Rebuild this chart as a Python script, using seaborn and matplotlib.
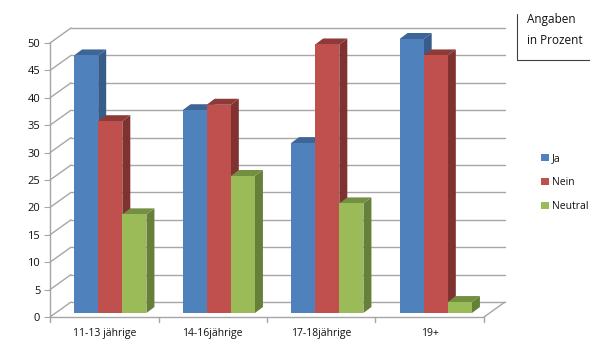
import numpy as np
import pandas as pd
import matplotlib
matplotlib.use("Agg")
import matplotlib.pyplot as plt
import seaborn as sns
from matplotlib.patches import Polygon, Patch
from matplotlib.lines import Line2D

# data
groups = ["11-13 jährige", "14-16jährige", "17-18jährige", "19+"]
answers = ["Ja", "Nein", "Neutral"]
ja = [47, 37, 31, 50]
nein = [35, 38, 49, 47]
neutral = [18, 25, 20, 2]
yticks = [0, 5, 10, 15, 20, 25, 30, 35, 40, 45, 50]

front = ["#4F81BD", "#C0504D", "#9BBB59"]
side = ["#385D8A", "#7F322F", "#66803A"]
top = ["#3D6597", "#8E3A37", "#748F42"]
grid_c = "#A6A6A6"

df = pd.DataFrame({
    "Gruppe": np.repeat(groups, 3),
    "Antwort": answers * 4,
    "Wert": np.ravel(np.column_stack([ja, nein, neutral])),
})

sns.set_style("white")
plt.rcParams["font.family"] = ["Open Sans", "DejaVu Sans"]
plt.rcParams["text.color"] = "#111111"
plt.rcParams["xtick.color"] = "#111111"
plt.rcParams["ytick.color"] = "#111111"

W, H = 590, 342
fig = plt.figure(figsize=(W / 100, H / 100), dpi=100)
# axes box in pixels: x 50..484, y 43..317
ax = fig.add_axes([50 / W, 25 / H, 434 / W, 274 / H])

sns.barplot(data=df, x="Gruppe", y="Wert", hue="Antwort", order=groups,
            hue_order=answers, palette=front, width=0.667, legend=False,
            saturation=1, ax=ax, linewidth=0)
ax.set_xlim(-0.5, 3.5)
ax.set_ylim(0, 50)

sx = 434 / 4.0   # pixels per category
sy = 274 / 50.0  # pixels per unit


def px(dx, dy):
    return dx / sx, dy / sy


# back wall and floor (3d look)
wx, wy = px(21, 15)
for v in yticks:
    ax.plot([-0.5 + wx, 3.5 + wx], [v + wy, v + wy], color=grid_c, lw=1,
            clip_on=False, zorder=0.5)
    ax.plot([-0.5, -0.5 + wx], [v, v + wy], color=grid_c, lw=1,
            clip_on=False, zorder=0.5)
ax.plot([3.5, 3.5 + wx], [0, wy], color=grid_c, lw=1, clip_on=False, zorder=0.5)

# shift bars into the middle of the depth and add side/top faces
bx, by = px(6, 4)
dx, dy = px(8, 6)
for i, cont in enumerate(ax.containers):
    for bar in cont:
        x0 = bar.get_x() + bx
        w = bar.get_width()
        h = bar.get_height()
        x1 = x0 + w
        b = by
        bar.set_x(x0)
        bar.set_y(b)
        bar.set_clip_on(False)
        bar.set_zorder(3 + i * 0.1)
        sd = Polygon([(x1, b), (x1 + dx, b + dy), (x1 + dx, b + h + dy), (x1, b + h)],
                     closed=True, fc=side[i], ec="none", zorder=2.95 + i * 0.1,
                     clip_on=False)
        tp = Polygon([(x0, b + h), (x1, b + h), (x1 + dx, b + h + dy), (x0 + dx, b + h + dy)],
                     closed=True, fc=top[i], ec="none", zorder=2.95 + i * 0.1,
                     clip_on=False)
        ax.add_patch(sd)
        ax.add_patch(tp)

# axes styling
for s in ["top", "right"]:
    ax.spines[s].set_visible(False)
for s in ["left", "bottom"]:
    ax.spines[s].set_color(grid_c)
    ax.spines[s].set_linewidth(1)
ax.set_yticks(yticks)
ax.set_xticks([0, 1, 2, 3])
ax.set_xticklabels(groups)
ax.tick_params(axis="y", length=4, color=grid_c, labelsize=8, pad=3, left=True)
ax.tick_params(axis="x", length=0, labelsize=7.5, pad=8)
for xb in [-0.5, 0.5, 1.5, 2.5, 3.5]:
    ax.plot([xb, xb], [0, -0.9], color=grid_c, lw=1, clip_on=False)
ax.set_xlabel("")
ax.set_ylabel("")
ax.grid(False)

# legend
handles = [Patch(fc=c, ec="none") for c in front]
fig.legend(handles, answers, loc="upper left",
           bbox_to_anchor=(532 / W, 1 - 144 / H), frameon=False,
           fontsize=7.5, handlelength=0.7, handleheight=0.7,
           handletextpad=0.3, labelspacing=1.25)

# note box
fig.text(527 / W, 1 - 20 / H, "Angaben", fontsize=8.5, va="center")
fig.text(527 / W, 1 - 41 / H, "in Prozent", fontsize=8.5, va="center")
fig.add_artist(Line2D([517 / W, 517 / W], [1 - 14 / H, 1 - 60 / H],
                      transform=fig.transFigure, color="#404040", lw=0.8))
fig.add_artist(Line2D([517 / W, 1], [1 - 60 / H, 1 - 60 / H],
                      transform=fig.transFigure, color="#404040", lw=0.8))

fig.savefig("out.png", dpi=100)
